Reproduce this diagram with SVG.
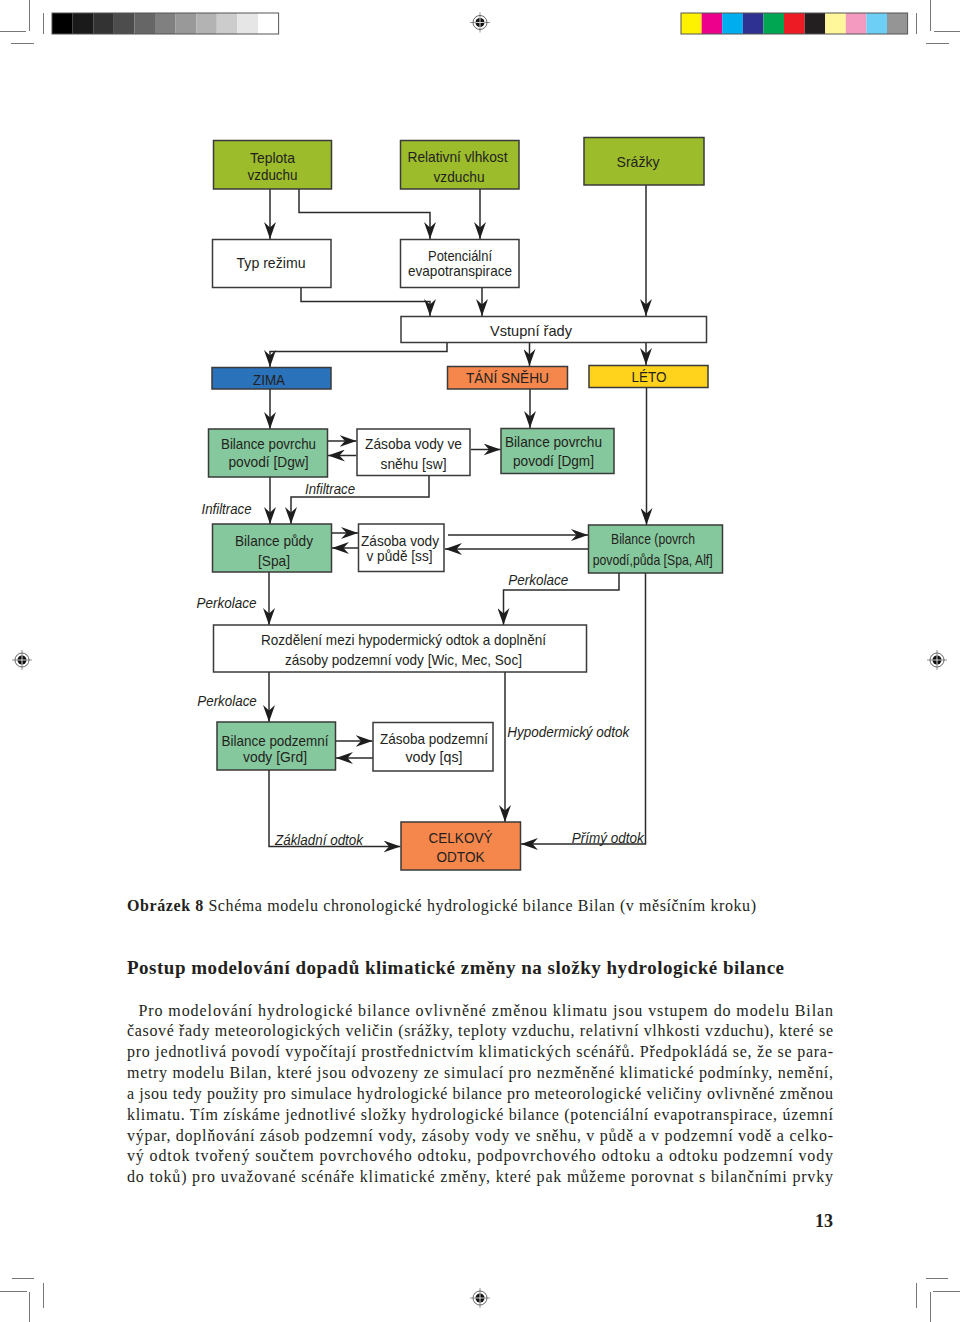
<svg xmlns="http://www.w3.org/2000/svg" width="960" height="1322" viewBox="0 0 960 1322">
<defs>
<style>
.n{stroke:#3a3a3a;stroke-width:1.5}
.g1{fill:#9cbc2c}
.g2{fill:#86c89d}
.w{fill:#ffffff}
.t{font-family:"Liberation Sans",Arial,sans-serif;font-size:15px;fill:#231f20;text-anchor:middle}
.lb{font-family:"Liberation Sans",Arial,sans-serif;font-size:15px;font-style:italic;fill:#231f20}
.c{fill:none;stroke:#2b2b2b;stroke-width:1.5;marker-end:url(#ah)}
.pg{font-family:"Liberation Serif","Times New Roman",serif;fill:#231f20}
.cm{stroke:#777;stroke-width:1;fill:none}
</style>
<marker id="ah" markerWidth="17" markerHeight="12" refX="17" refY="6" orient="auto" markerUnits="userSpaceOnUse">
<path d="M0,0 L17,6 L0,12 L5.5,6 Z" fill="#1e1e1e"/>
</marker>
<g id="reg">
<line x1="-10" y1="0" x2="10" y2="0" stroke="#666" stroke-width="0.7"/>
<line x1="0" y1="-10" x2="0" y2="10" stroke="#666" stroke-width="0.7"/>
<circle r="7" fill="none" stroke="#555" stroke-width="0.9"/>
<circle r="4.5" fill="#111"/>
<line x1="-4.5" y1="0" x2="4.5" y2="0" stroke="#fff" stroke-width="0.8"/>
<line x1="0" y1="-4.5" x2="0" y2="4.5" stroke="#fff" stroke-width="0.8"/>
</g>
</defs>
<rect width="960" height="1322" fill="#ffffff"/>

<!-- print marks -->
<g id="printmarks">
<path class="cm" d="M29.5,0 V31 M0,31.5 H26 M11,43.5 H34 M43.5,13 V34"/>
<path class="cm" d="M930.5,0 V31 M934,31.5 H960 M926,43.5 H949 M916.5,13 V34"/>
<path class="cm" d="M12,1278.5 H34 M0,1291.5 H27 M29.5,1292 V1322 M43.5,1283 V1308"/>
<path class="cm" d="M926,1278.5 H948 M933,1291.5 H960 M930.5,1292 V1322 M916.5,1283 V1308"/>
<use href="#reg" x="480" y="22.5"/>
<use href="#reg" x="22" y="660"/>
<use href="#reg" x="937" y="660"/>
<use href="#reg" x="480" y="1298"/>
<g id="graybar">
<rect x="52" y="13" width="20.6" height="21" fill="#000"/>
<rect x="72.6" y="13" width="20.6" height="21" fill="#1a1a1a"/>
<rect x="93.2" y="13" width="20.6" height="21" fill="#333"/>
<rect x="113.8" y="13" width="20.6" height="21" fill="#4d4d4d"/>
<rect x="134.4" y="13" width="20.6" height="21" fill="#666"/>
<rect x="155" y="13" width="20.6" height="21" fill="#808080"/>
<rect x="175.6" y="13" width="20.6" height="21" fill="#999"/>
<rect x="196.2" y="13" width="20.6" height="21" fill="#b3b3b3"/>
<rect x="216.8" y="13" width="20.6" height="21" fill="#ccc"/>
<rect x="237.4" y="13" width="20.6" height="21" fill="#e6e6e6"/>
<rect x="258" y="13" width="20.6" height="21" fill="#fff"/>
<rect x="52" y="13" width="226.6" height="21" fill="none" stroke="#555" stroke-width="1"/>
</g>
<g id="colorbar">
<rect x="681" y="13" width="20.6" height="21" fill="#fff200"/>
<rect x="701.6" y="13" width="20.6" height="21" fill="#ec008c"/>
<rect x="722.2" y="13" width="20.6" height="21" fill="#00aeef"/>
<rect x="742.8" y="13" width="20.6" height="21" fill="#2e3192"/>
<rect x="763.4" y="13" width="20.6" height="21" fill="#00a651"/>
<rect x="784" y="13" width="20.6" height="21" fill="#ed1c24"/>
<rect x="804.6" y="13" width="20.6" height="21" fill="#231f20"/>
<rect x="825.2" y="13" width="20.6" height="21" fill="#fff799"/>
<rect x="845.8" y="13" width="20.6" height="21" fill="#f49ac1"/>
<rect x="866.4" y="13" width="20.6" height="21" fill="#6dcff6"/>
<rect x="887" y="13" width="20.6" height="21" fill="#959595"/>
<rect x="681" y="13" width="226.6" height="21" fill="none" stroke="#555" stroke-width="1"/>
</g>
</g>

<!-- connectors -->
<g id="connectors">
<path class="c" d="M270,189 V239"/>
<path class="c" d="M299,189 V212.5 H430 V239"/>
<path class="c" d="M480,189 V239"/>
<path class="c" d="M301,287 V301.5 H430 V316"/>
<path class="c" d="M482,287 V316"/>
<path class="c" d="M646,185 V316"/>
<path class="c" d="M447,342 V351.5 H270 V367"/>
<path class="c" d="M529.5,342 V366"/>
<path class="c" d="M646,342 V365"/>
<path class="c" d="M270,389 V429"/>
<path class="c" d="M530,389 V428"/>
<path class="c" d="M328,441 H356.5"/>
<path class="c" d="M356.5,455.5 H328"/>
<path class="c" d="M471,449.5 H500.5"/>
<path class="c" d="M429,476 V497 H291 V524"/>
<path class="c" d="M270,477 V524"/>
<path class="c" d="M646.5,387 V525"/>
<path class="c" d="M332,533 H358"/>
<path class="c" d="M358,548 H332"/>
<path class="c" d="M448,535 H588"/>
<path class="c" d="M588,549 H445"/>
<path class="c" d="M619,573 V590 H503.5 V625"/>
<path class="c" d="M269,572 V625"/>
<path class="c" d="M645.5,573 V844 H521"/>
<path class="c" d="M269,672 V722"/>
<path class="c" d="M336,741 H372.5"/>
<path class="c" d="M374,758 H336"/>
<path class="c" d="M505,672 V822"/>
<path class="c" d="M269,770 V846.5 H400.5"/>
<text class="lb" x="305" y="493.5" textLength="50" lengthAdjust="spacingAndGlyphs">Infiltrace</text>
<text class="lb" x="201.5" y="513.5" textLength="50" lengthAdjust="spacingAndGlyphs">Infiltrace</text>
<text class="lb" x="196.5" y="607.5" textLength="60" lengthAdjust="spacingAndGlyphs">Perkolace</text>
<text class="lb" x="508.3" y="584.5" textLength="60" lengthAdjust="spacingAndGlyphs">Perkolace</text>
<text class="lb" x="197.3" y="706" textLength="59.5" lengthAdjust="spacingAndGlyphs">Perkolace</text>
<text class="lb" x="507.3" y="737" textLength="122" lengthAdjust="spacingAndGlyphs">Hypodermický odtok</text>
<text class="lb" x="275" y="844.5" textLength="88" lengthAdjust="spacingAndGlyphs">Základní odtok</text>
<text class="lb" x="571.7" y="842.5" textLength="72" lengthAdjust="spacingAndGlyphs">Přímý odtok</text>
</g>

<!-- nodes -->
<g id="teplota"><rect class="n g1" x="213.5" y="140.5" width="118" height="48.5"/>
<text class="t" x="272.5" y="163" textLength="45" lengthAdjust="spacingAndGlyphs">Teplota</text><text class="t" x="272.5" y="179.5" textLength="50" lengthAdjust="spacingAndGlyphs">vzduchu</text></g>
<g id="vlhkost"><rect class="n g1" x="400.5" y="140.5" width="118.5" height="48.5"/>
<text class="t" x="457.5" y="161.5" textLength="100" lengthAdjust="spacingAndGlyphs">Relativní vlhkost</text><text class="t" x="459" y="182" textLength="51" lengthAdjust="spacingAndGlyphs">vzduchu</text></g>
<g id="srazky"><rect class="n g1" x="584" y="137.5" width="120" height="47.5"/>
<text class="t" x="638" y="166.5" textLength="43" lengthAdjust="spacingAndGlyphs">Srážky</text></g>
<g id="typ"><rect class="n w" x="212.5" y="239.5" width="118.5" height="48"/>
<text class="t" x="271" y="268" textLength="69" lengthAdjust="spacingAndGlyphs">Typ režimu</text></g>
<g id="pet"><rect class="n w" x="400.5" y="239.5" width="118.5" height="48"/>
<text class="t" x="460" y="260.5" textLength="64" lengthAdjust="spacingAndGlyphs">Potenciální</text><text class="t" x="460" y="276" textLength="104" lengthAdjust="spacingAndGlyphs">evapotranspirace</text></g>
<g id="vstup"><rect class="n w" x="401" y="316.5" width="305.5" height="26"/>
<text class="t" x="531" y="335.5" textLength="82" lengthAdjust="spacingAndGlyphs">Vstupní řady</text></g>
<g id="zima"><rect class="n" fill="#2a72ba" x="212" y="367.5" width="119" height="21.5"/>
<text class="t" x="269" y="384.5" textLength="32" lengthAdjust="spacingAndGlyphs">ZIMA</text></g>
<g id="tani"><rect class="n" fill="#f5874d" x="447.5" y="366.5" width="120" height="22.5"/>
<text class="t" x="507.5" y="383" textLength="83" lengthAdjust="spacingAndGlyphs">TÁNÍ SNĚHU</text></g>
<g id="leto"><rect class="n" fill="#ffd21c" x="589" y="365.5" width="119" height="22"/>
<text class="t" x="649" y="381.5" textLength="35" lengthAdjust="spacingAndGlyphs">LÉTO</text></g>
<g id="dgw"><rect class="n g2" x="208.5" y="429" width="119" height="48"/>
<text class="t" x="268.5" y="448.5" textLength="95" lengthAdjust="spacingAndGlyphs">Bilance povrchu</text><text class="t" x="268.5" y="467" textLength="80" lengthAdjust="spacingAndGlyphs">povodí [Dgw]</text></g>
<g id="sw"><rect class="n w" x="357" y="429" width="113" height="46.5"/>
<text class="t" x="413.5" y="448.5" textLength="97" lengthAdjust="spacingAndGlyphs">Zásoba vody ve</text><text class="t" x="413.5" y="468.5" textLength="66" lengthAdjust="spacingAndGlyphs">sněhu [sw]</text></g>
<g id="dgm"><rect class="n g2" x="501" y="428.5" width="113" height="45"/>
<text class="t" x="553.5" y="446.5" textLength="97" lengthAdjust="spacingAndGlyphs">Bilance povrchu</text><text class="t" x="553.5" y="465.5" textLength="81" lengthAdjust="spacingAndGlyphs">povodí [Dgm]</text></g>
<g id="spa"><rect class="n g2" x="212.5" y="524" width="119" height="48"/>
<text class="t" x="274" y="545.5" textLength="78" lengthAdjust="spacingAndGlyphs">Bilance půdy</text><text class="t" x="274" y="565.5" textLength="32" lengthAdjust="spacingAndGlyphs">[Spa]</text></g>
<g id="ss"><rect class="n w" x="358.5" y="524" width="85.5" height="47.5"/>
<text class="t" x="400" y="545.5" textLength="78" lengthAdjust="spacingAndGlyphs">Zásoba vody</text><text class="t" x="399.5" y="560.5" textLength="66" lengthAdjust="spacingAndGlyphs">v půdě [ss]</text></g>
<g id="alf"><rect class="n g2" x="588.5" y="525" width="134" height="48"/>
<text class="t" x="653" y="543.5" textLength="84" lengthAdjust="spacingAndGlyphs">Bilance (povrch</text><text class="t" x="652.7" y="564.5" textLength="120" lengthAdjust="spacingAndGlyphs">povodí,půda [Spa, Alf]</text></g>
<g id="rozdeleni"><rect class="n w" x="213.5" y="625" width="373" height="47"/>
<text class="t" x="403.5" y="644.5" textLength="285" lengthAdjust="spacingAndGlyphs">Rozdělení mezi hypodermický odtok a doplnění</text><text class="t" x="403.5" y="664.5" textLength="237" lengthAdjust="spacingAndGlyphs">zásoby podzemní vody [Wic, Mec, Soc]</text></g>
<g id="grd"><rect class="n g2" x="217" y="722" width="118.5" height="48"/>
<text class="t" x="275" y="745.5" textLength="107" lengthAdjust="spacingAndGlyphs">Bilance podzemní</text><text class="t" x="275" y="762" textLength="64" lengthAdjust="spacingAndGlyphs">vody [Grd]</text></g>
<g id="qs"><rect class="n w" x="373" y="722.5" width="120" height="48.5"/>
<text class="t" x="434" y="743.5" textLength="108" lengthAdjust="spacingAndGlyphs">Zásoba podzemní</text><text class="t" x="434" y="762" textLength="57" lengthAdjust="spacingAndGlyphs">vody [qs]</text></g>
<g id="celkovy"><rect class="n" fill="#f5874d" x="401" y="822" width="119.5" height="48"/>
<text class="t" x="460.5" y="843" textLength="64" lengthAdjust="spacingAndGlyphs">CELKOVÝ</text><text class="t" x="460.5" y="862" textLength="48" lengthAdjust="spacingAndGlyphs">ODTOK</text></g>

<!-- page text -->
<g id="pagetext">
<text class="pg" x="127" y="910.5" font-size="16" textLength="629" lengthAdjust="spacing"><tspan font-weight="bold">Obrázek 8</tspan> Schéma modelu chronologické hydrologické bilance Bilan (v měsíčním kroku)</text>
<text class="pg" x="127" y="973.5" font-size="19" font-weight="bold" textLength="657" lengthAdjust="spacing">Postup modelování dopadů klimatické změny na složky hydrologické bilance</text>
<g font-size="16">
<text class="pg" x="138.5" y="1015.5" textLength="694.5" lengthAdjust="spacing">Pro modelování hydrologické bilance ovlivněné změnou klimatu jsou vstupem do modelu Bilan</text>
<text class="pg" x="127" y="1036.4" textLength="706" lengthAdjust="spacing">časové řady meteorologických veličin (srážky, teploty vzduchu, relativní vlhkosti vzduchu), které se</text>
<text class="pg" x="127" y="1057.2" textLength="706" lengthAdjust="spacing">pro jednotlivá povodí vypočítají prostřednictvím klimatických scénářů. Předpokládá se, že se para-</text>
<text class="pg" x="127" y="1078" textLength="706" lengthAdjust="spacing">metry modelu Bilan, které jsou odvozeny ze simulací pro nezměněné klimatické podmínky, nemění,</text>
<text class="pg" x="127" y="1098.9" textLength="706" lengthAdjust="spacing">a jsou tedy použity pro simulace hydrologické bilance pro meteorologické veličiny ovlivněné změnou</text>
<text class="pg" x="127" y="1119.7" textLength="706" lengthAdjust="spacing">klimatu. Tím získáme jednotlivé složky hydrologické bilance (potenciální evapotranspirace, územní</text>
<text class="pg" x="127" y="1140.6" textLength="706" lengthAdjust="spacing">výpar, doplňování zásob podzemní vody, zásoby vody ve sněhu, v půdě a v podzemní vodě a celko-</text>
<text class="pg" x="127" y="1161.4" textLength="706" lengthAdjust="spacing">vý odtok tvořený součtem povrchového odtoku, podpovrchového odtoku a odtoku podzemní vody</text>
<text class="pg" x="127" y="1182.3" textLength="706" lengthAdjust="spacing">do toků) pro uvažované scénáře klimatické změny, které pak můžeme porovnat s bilančními prvky</text>
</g>
<text class="pg" x="833" y="1227" font-size="18" font-weight="bold" text-anchor="end">13</text>
</g>
</svg>
